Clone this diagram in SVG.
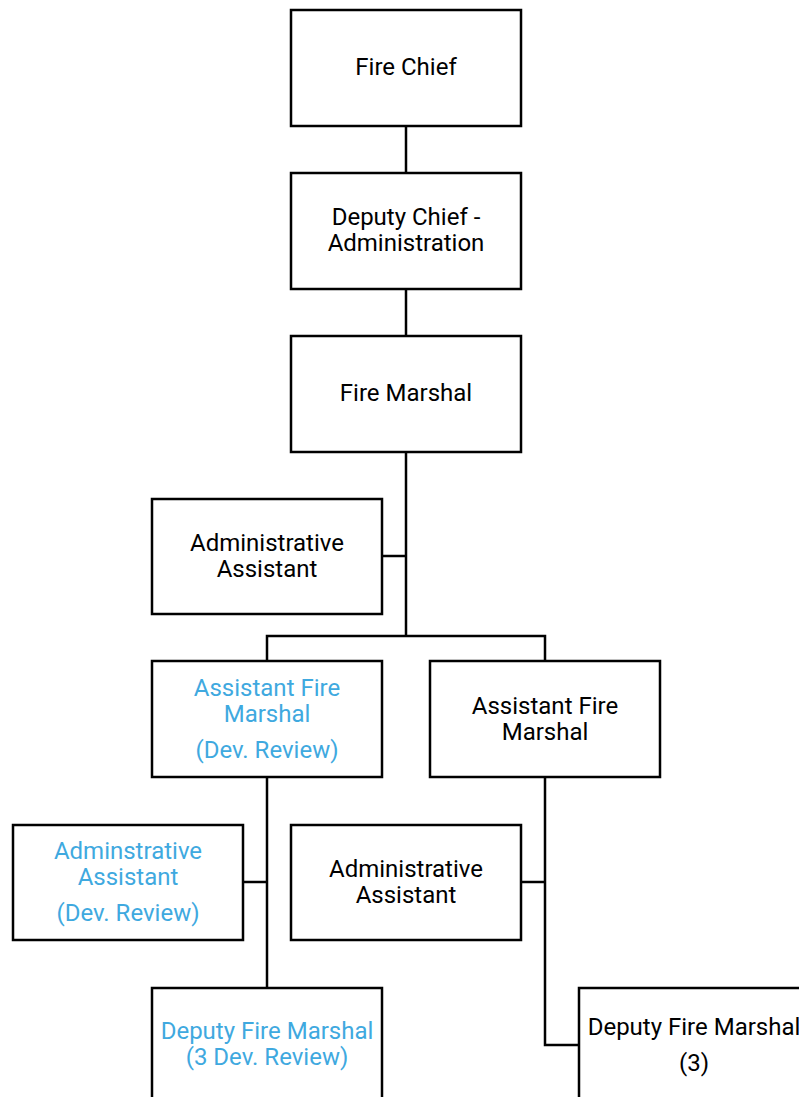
<svg xmlns="http://www.w3.org/2000/svg" width="799" height="1097" viewBox="0 0 799 1097">
  <style>
    .box { fill: #ffffff; stroke: #000000; stroke-width: 2.5; }
    .lbl { font-family: Roboto, "Liberation Sans", sans-serif; font-size: 24px; text-anchor: middle; fill: #000000; }
    .dev { fill: #3fa9df; }
    .wire { fill: none; stroke: #000000; stroke-width: 2.5; }
  </style>
  <rect width="799" height="1097" fill="#ffffff"/>

  <!-- reporting lines -->
  <g id="connectors">
    <path class="wire" d="M406 126 V173"/>
    <path class="wire" d="M406 289 V336"/>
    <path class="wire" d="M406 452 V636"/>
    <path class="wire" d="M382 556 H406"/>
    <path class="wire" d="M267 661 V636 H545 V661"/>
    <path class="wire" d="M267 777 V988"/>
    <path class="wire" d="M243 882 H267"/>
    <path class="wire" d="M545 777 V1045 H579"/>
    <path class="wire" d="M521 882 H545"/>
  </g>

  <g id="fire-chief">
    <rect class="box" x="291" y="10" width="230" height="116"/>
    <text class="lbl" x="406" y="75">Fire Chief</text>
  </g>

  <g id="deputy-chief-admin">
    <rect class="box" x="291" y="173" width="230" height="116"/>
    <text class="lbl" x="406" y="225">Deputy Chief -</text>
    <text class="lbl" x="406" y="251">Administration</text>
  </g>

  <g id="fire-marshal">
    <rect class="box" x="291" y="336" width="230" height="116"/>
    <text class="lbl" x="406" y="401">Fire Marshal</text>
  </g>

  <g id="admin-assistant-fm">
    <rect class="box" x="152" y="499" width="230" height="115"/>
    <text class="lbl" x="267" y="551">Administrative</text>
    <text class="lbl" x="267" y="577">Assistant</text>
  </g>

  <g id="afm-dev-review">
    <rect class="box" x="152" y="661" width="230" height="116"/>
    <text class="lbl dev" x="267" y="696">Assistant Fire</text>
    <text class="lbl dev" x="267" y="722">Marshal</text>
    <text class="lbl dev" x="267" y="758">(Dev. Review)</text>
  </g>

  <g id="afm">
    <rect class="box" x="430" y="661" width="230" height="116"/>
    <text class="lbl" x="545" y="714">Assistant Fire</text>
    <text class="lbl" x="545" y="740">Marshal</text>
  </g>

  <g id="admin-assistant-dev-review">
    <rect class="box" x="13" y="825" width="230" height="115"/>
    <text class="lbl dev" x="128" y="859">Adminstrative</text>
    <text class="lbl dev" x="128" y="885">Assistant</text>
    <text class="lbl dev" x="128" y="921">(Dev. Review)</text>
  </g>

  <g id="admin-assistant-afm">
    <rect class="box" x="291" y="825" width="230" height="115"/>
    <text class="lbl" x="406" y="877">Administrative</text>
    <text class="lbl" x="406" y="903">Assistant</text>
  </g>

  <g id="dfm-dev-review">
    <rect class="box" x="152" y="988" width="230" height="116"/>
    <text class="lbl dev" x="267" y="1039">Deputy Fire Marshal</text>
    <text class="lbl dev" x="267" y="1065">(3 Dev. Review)</text>
  </g>

  <g id="dfm">
    <rect class="box" x="579" y="988" width="230" height="116"/>
    <text class="lbl" x="694" y="1035">Deputy Fire Marshal</text>
    <text class="lbl" x="694" y="1071">(3)</text>
  </g>
</svg>
